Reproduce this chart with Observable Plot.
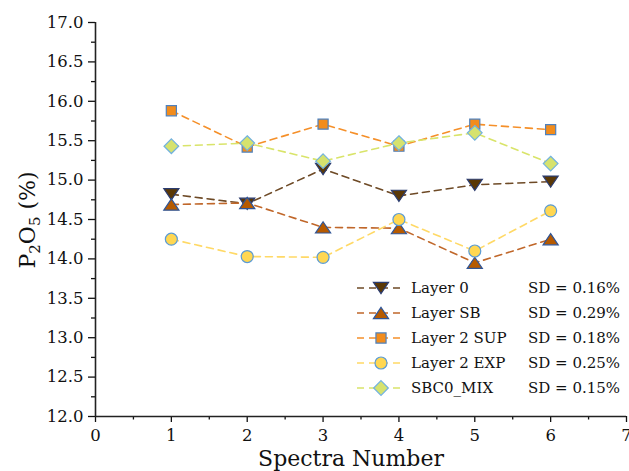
<!DOCTYPE html>
<html>
<head>
<meta charset="utf-8">
<script src="https://cdn.jsdelivr.net/npm/d3@7"></script>
<script src="https://cdn.jsdelivr.net/npm/@observablehq/plot@0.6"></script>
<style>
  body { margin: 0; background: #fff; }
  #wrap { position: relative; width: 629px; height: 471px; font-family: "DejaVu Serif", serif; }
  #legend { position: absolute; left: 356px; top: 275.5px; }
  .row { display: flex; align-items: center; height: 25px; font-size: 15px; color: #111; }
  .row svg { display: block; }
  .lab { margin-left: 6px; width: 117px; white-space: nowrap; }
  .sd { white-space: nowrap; }
</style>
</head>
<body>
<div id="wrap"></div>
<script>
// ---- data ----
const spectra = [1, 2, 3, 4, 5, 6];
const layer0    = [14.82, 14.70, 15.14, 14.80, 14.94, 14.98];
const layerSB   = [14.69, 14.71, 14.40, 14.39, 13.95, 14.25];
const layer2SUP = [15.88, 15.42, 15.71, 15.43, 15.71, 15.64];
const layer2EXP = [14.25, 14.03, 14.02, 14.50, 14.10, 14.61];
const sbc0MIX   = [15.43, 15.47, 15.24, 15.47, 15.60, 15.21];
const seriesNames = ["Layer 0", "Layer SB", "Layer 2 SUP", "Layer 2 EXP", "SBC0_MIX"];
const sdLabels = ["SD = 0.16%", "SD = 0.29%", "SD = 0.18%", "SD = 0.25%", "SD = 0.15%"];
const xDomain = [0, 7];
const yDomain = [12, 17];
const xTicks = [0, 1, 2, 3, 4, 5, 6, 7];
const xMinor = [0.5, 1.5, 2.5, 3.5, 4.5, 5.5, 6.5];
const yTicks = [12.0, 12.5, 13.0, 13.5, 14.0, 14.5, 15.0, 15.5, 16.0, 16.5, 17.0];
const yMinor = [12.25, 12.75, 13.25, 13.75, 14.25, 14.75, 15.25, 15.75, 16.25, 16.75];

// ---- styles ----
const triUp = { draw(ctx, size) { const r = Math.sqrt(size / Math.PI); const w = r * 1.35;
  ctx.moveTo(0, -r); ctx.lineTo(w, r); ctx.lineTo(-w, r); ctx.closePath(); } };
const triDown = { draw(ctx, size) { const r = Math.sqrt(size / Math.PI); const w = r * 1.35;
  ctx.moveTo(0, r); ctx.lineTo(w, -r); ctx.lineTo(-w, -r); ctx.closePath(); } };
const styles = [
  { values: layer0,    line: "#6e4a26", fill: "#5a3806", edge: "#2b3c70", symbol: triDown, r: 5.6 },
  { values: layerSB,   line: "#c0672a", fill: "#b65a00", edge: "#2f5597", symbol: triUp,   r: 5.6 },
  { values: layer2SUP, line: "#f5902a", fill: "#f28c1c", edge: "#4f81bd", symbol: d3.symbolSquare, r: 5.7 },
  { values: layer2EXP, line: "#ffd966", fill: "#ffd752", edge: "#5b9bd5", symbol: d3.symbolCircle, r: 6.0 },
  { values: sbc0MIX,   line: "#d9e46a", fill: "#d6e26e", edge: "#72b2de", symbol: d3.symbolDiamond2, r: 6.6 }
];

const marks = [];
styles.forEach((s, i) => {
  const data = spectra.map((x, j) => ({ x, y: s.values[j], name: seriesNames[i] }));
  marks.push(Plot.line(data, { x: "x", y: "y", stroke: s.line, strokeWidth: 1.6, strokeDasharray: "7,5" }));
  marks.push(Plot.dot(data, { x: "x", y: "y", symbol: s.symbol, r: s.r, fill: s.fill, stroke: s.edge, strokeWidth: 1.2 }));
});

const chart = Plot.plot({
  width: 629, height: 471,
  marginLeft: 95, marginRight: 3, marginTop: 22, marginBottom: 55,
  style: { fontFamily: "DejaVu Serif, serif", fontSize: "16.5px", color: "#111", background: "#fff", overflow: "visible" },
  x: { domain: xDomain, axis: null },
  y: { domain: yDomain, axis: null },
  marks: [
    Plot.axisY(yTicks, { tickSize: 7, tickPadding: 5, tickFormat: d => d.toFixed(1), label: null, strokeWidth: 1.3 }),
    Plot.axisY(yMinor, { tickSize: 4, tickFormat: () => "", label: null, strokeWidth: 1.3 }),
    Plot.axisX(xTicks, { tickSize: 6, tickPadding: 6.5, tickFormat: d => String(d), label: null, strokeWidth: 1.3 }),
    Plot.axisX(xMinor, { tickSize: 3.5, tickFormat: () => "", label: null, strokeWidth: 1.3 }),
    Plot.ruleX([xDomain[0]], { stroke: "#222", strokeWidth: 1.6 }),
    Plot.ruleY([yDomain[0]], { stroke: "#222", strokeWidth: 1.6 }),
    ...marks
  ]
});

const wrap = document.getElementById("wrap");
wrap.appendChild(chart);

// axis titles
const svg = d3.select(chart);
svg.append("text")
  .attr("x", 351).attr("y", 466)
  .attr("text-anchor", "middle")
  .attr("font-family", "DejaVu Serif, serif").attr("font-size", 22).attr("fill", "#111")
  .text("Spectra Number");
const yl = svg.append("text")
  .attr("transform", "translate(35,220) rotate(-90)")
  .attr("text-anchor", "middle")
  .attr("font-family", "DejaVu Serif, serif").attr("font-size", 22).attr("fill", "#111");
yl.append("tspan").text("P");
yl.append("tspan").attr("font-size", 15).attr("dy", 5).text("2");
yl.append("tspan").attr("dy", -5).text("O");
yl.append("tspan").attr("font-size", 15).attr("dy", 5).text("5");
yl.append("tspan").attr("dy", -5).text(" (%)");

// legend
const legend = document.createElement("div");
legend.id = "legend";
wrap.appendChild(legend);
styles.forEach((s, i) => {
  const row = document.createElement("div");
  row.className = "row";
  const sw = d3.create("svg").attr("width", 49).attr("height", 20);
  sw.append("line").attr("x1", 1).attr("x2", 48).attr("y1", 10).attr("y2", 10)
    .attr("stroke", s.line).attr("stroke-width", 1.6).attr("stroke-dasharray", "7,5");
  sw.append("path").attr("transform", "translate(25,10)")
    .attr("d", d3.symbol(s.symbol, Math.PI * s.r * s.r)())
    .attr("fill", s.fill).attr("stroke", s.edge).attr("stroke-width", 1.2);
  row.appendChild(sw.node());
  const lab = document.createElement("span"); lab.className = "lab"; lab.textContent = seriesNames[i];
  const sd = document.createElement("span"); sd.className = "sd"; sd.textContent = sdLabels[i];
  row.appendChild(lab); row.appendChild(sd);
  legend.appendChild(row);
});
</script>
</body>
</html>
